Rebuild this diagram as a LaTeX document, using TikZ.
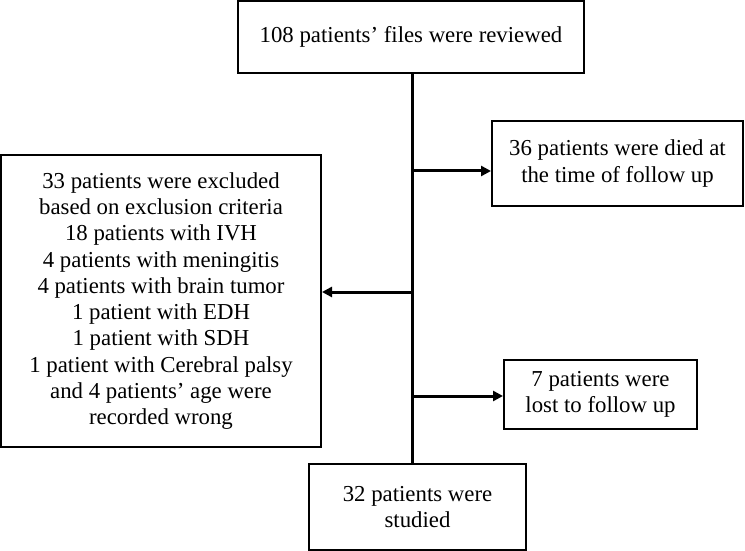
\documentclass[tikz,border=0pt]{standalone}
\usepackage{fontspec}
\setmainfont{Liberation Serif}
\usetikzlibrary{arrows.meta, positioning}

\begin{document}
\begin{tikzpicture}[x=0.5pt, y=-0.5pt,
        box/.style={draw, rectangle, line width=1pt, align=center, inner sep=0pt, font=\fontsize{11.4}{13.15}\selectfont},
        link/.style={line width=1.5pt},
        arr/.style={link, -{Triangle[length=5pt, width=5pt]}}]
        \useasboundingbox (0,0) rectangle (745,551);
        \node (reviewed) [box, minimum width=173pt, minimum height=36pt] at (411,37) {108 patients' files were reviewed};
        \node (died) [box, minimum width=125.5pt, minimum height=42.5pt] at (617.5,163.5) {36 patients were died at \\ the time of follow up};
        \node (excluded) [box, minimum width=160pt, minimum height=146pt] at (161,301) {33 patients were excluded \\ based on exclusion criteria \\ 18 patients with IVH \\ 4 patients with meningitis \\ 4 patients with brain tumor \\ 1 patient with EDH \\ 1 patient with SDH \\ 1 patient with Cerebral palsy \\ and 4 patients' age were \\ recorded wrong};
        \node (lost) [box, minimum width=96.5pt, minimum height=34.5pt] at (600.5,394.5) {7 patients were \\ lost to follow up};
        \node (studied) [box, minimum width=108.5pt, minimum height=43pt] at (417.5,507) {32 patients were \\ studied};

        % branch points on the trunk
        \coordinate (b1) at (412,171);
        \coordinate (b2) at (412,292);
        \coordinate (b3) at (412,396);

        \draw [link] (reviewed.south -| b1) -- (studied.north -| b1);
        \draw [arr] (b1) -- (b1 -| died.west);
        \draw [arr] (b2) -- (b2 -| excluded.east);
        \draw [arr] (b3) -- (b3 -| lost.west);
\end{tikzpicture}
\end{document}
